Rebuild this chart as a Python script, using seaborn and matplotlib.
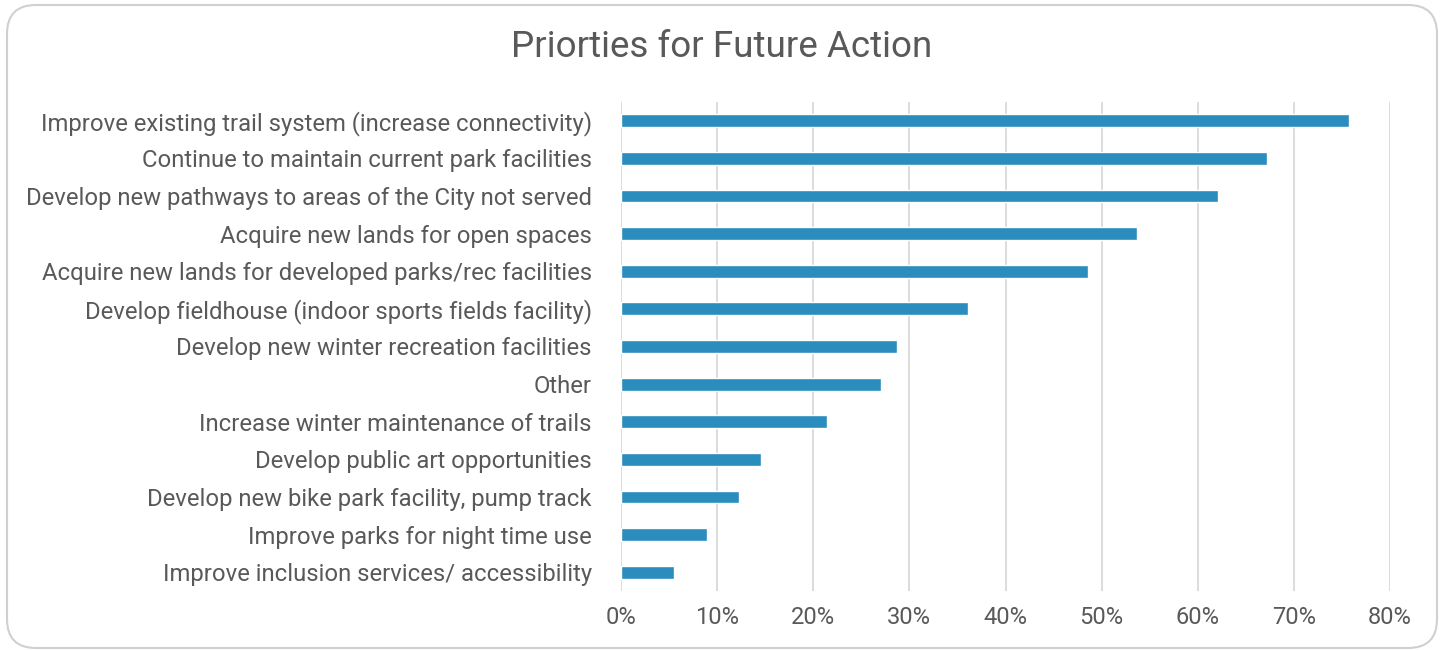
import matplotlib
matplotlib.use("Agg")
import matplotlib.pyplot as plt
from matplotlib.patches import FancyBboxPatch
from matplotlib.ticker import PercentFormatter
import seaborn as sns
import pandas as pd

categories = [
    "Improve existing trail system (increase connectivity)",
    "Continue to maintain current park facilities",
    "Develop new pathways to areas of the City not served",
    "Acquire new lands for open spaces",
    "Acquire new lands for developed parks/rec facilities",
    "Develop fieldhouse (indoor sports fields facility)",
    "Develop new winter recreation facilities",
    "Other",
    "Increase winter maintenance of trails",
    "Develop public art opportunities",
    "Develop new bike park facility, pump track",
    "Improve parks for night time use",
    "Improve inclusion services/ accessibility",
]
values = [0.757, 0.672, 0.621, 0.537, 0.486, 0.361, 0.287, 0.270,
          0.214, 0.146, 0.123, 0.089, 0.055]
xticks = [0, 0.1, 0.2, 0.3, 0.4, 0.5, 0.6, 0.7, 0.8]
title = "Priorties for Future Action"

sns.set_theme(style="white")
plt.rcParams["font.family"] = ["Roboto", "DejaVu Sans"]

df = pd.DataFrame({"cat": categories, "val": values})

fig = plt.figure(figsize=(14.44, 6.5), dpi=100)
ax = fig.add_axes([621 / 1444, 1 - 591 / 650, (1390 - 621) / 1444, (591 - 102) / 650])

sns.barplot(data=df, y="cat", x="val", orient="h", color="#2B8CBE",
            saturation=1, width=0.34, ax=ax)

ax.set_xlim(0, 0.8)
ax.set_ylim(len(categories) - 0.5, -0.5)
ax.set_xticks(xticks)
ax.xaxis.set_major_formatter(PercentFormatter(1.0, decimals=0))
ax.grid(axis="x", color="#D9D9D9", linewidth=1.3)
ax.set_axisbelow(True)
for s in ax.spines.values():
    s.set_visible(False)
ax.set_xlabel("")
ax.set_ylabel("")
ax.tick_params(axis="y", length=0, pad=21, labelsize=17.2, labelcolor="#595959")
ax.tick_params(axis="x", length=0, pad=11, labelsize=17, labelcolor="#595959")

fig.text(722 / 1444, 1 - 47 / 650, title, ha="center", va="center",
         fontsize=26.5, color="#595959")

border = FancyBboxPatch((7 / 1444, 1 - 648 / 650), (1437 - 7) / 1444, (648 - 5) / 650,
                        boxstyle="round,pad=0,rounding_size=0.02",
                        transform=fig.transFigure, fill=False,
                        edgecolor="#D0D0D0", linewidth=1.5, mutation_aspect=1444 / 650)
fig.patches.append(border)

fig.savefig("out.png", dpi=100, facecolor="white")
